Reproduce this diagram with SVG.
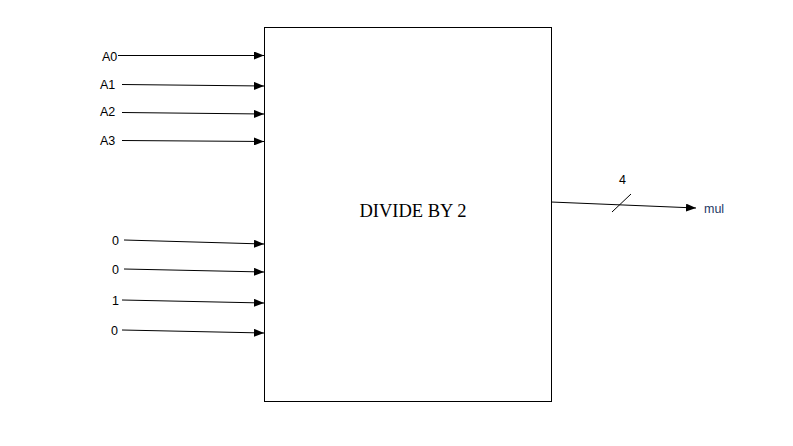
<svg xmlns="http://www.w3.org/2000/svg" width="793" height="446" viewBox="0 0 793 446">
<defs>
<marker id="ah" markerWidth="10" markerHeight="8" refX="10" refY="4" orient="auto" markerUnits="userSpaceOnUse">
<path d="M0,0 L10,4 L0,8 Z" fill="#000"/>
</marker>
<style>
.lbl{font-family:"Liberation Sans",Arial,sans-serif;font-size:12.5px;fill:#000}
.w{stroke:#000;stroke-width:1;fill:none;marker-end:url(#ah)}
</style>
</defs>
<rect width="793" height="446" fill="#fff"/>
<g id="divider">
<rect x="264.5" y="27.5" width="287" height="374" fill="#fff" stroke="#000" stroke-width="1"/>
<text x="413" y="217" text-anchor="middle" font-family="'Liberation Serif','Times New Roman',serif" font-size="18.5" fill="#000">DIVIDE BY 2</text>
</g>
<g id="labels">
<text class="lbl" x="102" y="61">A0</text>
<text class="lbl" x="100" y="89">A1</text>
<text class="lbl" x="100" y="116">A2</text>
<text class="lbl" x="100" y="145">A3</text>
<text class="lbl" x="112" y="245">0</text>
<text class="lbl" x="112" y="274">0</text>
<text class="lbl" x="112" y="305">1</text>
<text class="lbl" x="111" y="335">0</text>
<text class="lbl" x="619" y="184">4</text>
<text class="lbl" x="704" y="213" style="fill:#1f3864">mul</text>
</g>
<g id="connectors">
<line class="w" x1="118" y1="55.5" x2="264" y2="55.5"/>
<line class="w" x1="122" y1="84.5" x2="264" y2="86"/>
<line class="w" x1="122" y1="112.5" x2="264" y2="114"/>
<line class="w" x1="122" y1="140.5" x2="264" y2="141.5"/>
<line class="w" x1="124" y1="240" x2="264" y2="244"/>
<line class="w" x1="124" y1="269" x2="264" y2="272"/>
<line class="w" x1="122" y1="300" x2="264" y2="303"/>
<line class="w" x1="122" y1="330" x2="264" y2="333"/>
<line class="w" x1="551" y1="202" x2="696" y2="208"/>
<line x1="612" y1="212" x2="631" y2="194" stroke="#000" stroke-width="1"/>
</g>
</svg>
